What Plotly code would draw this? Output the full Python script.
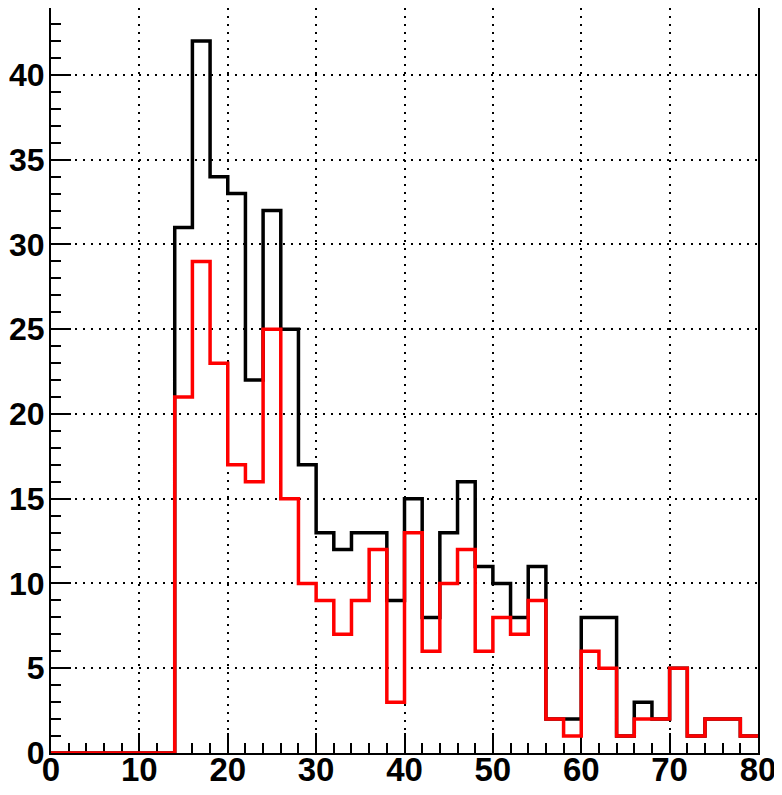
import plotly.graph_objects as go

bin_edges = list(range(0, 82, 2))
black_counts = [0, 0, 0, 0, 0, 0, 0, 31, 42, 34, 33, 22, 32, 25, 17, 13, 12, 13, 13, 9,
                15, 8, 13, 16, 11, 10, 8, 11, 2, 2, 8, 8, 1, 3, 2, 5, 1, 2, 2, 1]
red_counts = [0, 0, 0, 0, 0, 0, 0, 21, 29, 23, 17, 16, 25, 15, 10, 9, 7, 9, 12, 3,
              13, 6, 10, 12, 6, 8, 7, 9, 2, 1, 6, 5, 1, 2, 2, 5, 1, 2, 2, 1]
x_ticks = [0, 10, 20, 30, 40, 50, 60, 70, 80]
y_ticks = [0, 5, 10, 15, 20, 25, 30, 35, 40]


def step(counts):
    xs = list(bin_edges)
    ys = list(counts) + [counts[-1]]
    return xs, ys


fig = go.Figure()
for counts, color in [(black_counts, "black"), (red_counts, "#ff0000")]:
    xs, ys = step(counts)
    fig.add_trace(go.Scatter(x=xs, y=ys, mode="lines", line=dict(color=color, width=3.5, shape="hv"),
                             cliponaxis=False, showlegend=False, hoverinfo="skip"))

xfont = dict(family="Liberation Sans", size=33, color="black", weight="bold")
yfont = dict(family="Liberation Sans", size=32, color="black", weight="bold")
# page body has an 8px margin, so the figure is sized to fill the rest of the window
fig.update_layout(
    width=774, height=787,
    margin=dict(l=43, r=24, t=0, b=42, autoexpand=False),
    plot_bgcolor="white", paper_bgcolor="white",
    showlegend=False,
)
fig.update_xaxes(
    range=[0, 80], tickvals=x_ticks, ticktext=[str(v) for v in x_ticks],
    ticks="inside", ticklen=20, tickwidth=2, tickcolor="black",
    showline=True, linecolor="black", linewidth=2, mirror=True,
    showgrid=True, gridcolor="black", gridwidth=2, griddash="2px,6px",
    zeroline=False, tickfont=xfont, layer="below traces", automargin=False,
    ticklabelstandoff=-14,
    minor=dict(dtick=2, ticks="inside", ticklen=10, tickwidth=2, tickcolor="black", showgrid=False),
)
fig.update_yaxes(
    range=[0, 43.95], tickvals=y_ticks, ticktext=[str(v) for v in y_ticks],
    ticks="inside", ticklen=20, tickwidth=2, tickcolor="black",
    showline=True, linecolor="black", linewidth=2, mirror=True,
    showgrid=True, gridcolor="black", gridwidth=2, griddash="2px,6px",
    zeroline=False, tickfont=yfont, layer="below traces", automargin=False,
    ticklabelstandoff=-2,
    minor=dict(dtick=1, ticks="inside", ticklen=10, tickwidth=2, tickcolor="black", showgrid=False),
)
fig.write_html("out.html")
